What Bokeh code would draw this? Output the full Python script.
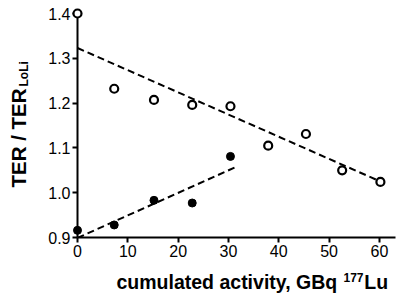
import math
from bokeh.plotting import figure
from bokeh.models import Range1d, Label, FixedTicker, NumeralTickFormatter
from bokeh.embed import file_html
from bokeh.resources import INLINE

# ---- data ----
activity_open = [0, 7.3, 15.2, 22.8, 30.4, 37.9, 45.4, 52.6, 60.2]
ter_open = [1.400, 1.232, 1.207, 1.196, 1.193, 1.105, 1.131, 1.050, 1.024]
activity_filled = [0, 7.3, 15.2, 22.8, 30.4]
ter_filled = [0.916, 0.928, 0.983, 0.977, 1.081]
trend_open_x = [0, 60.2]
trend_open_y = [1.323, 1.025]
trend_filled_x = [0, 31.4]
trend_filled_y = [0.899, 1.057]
x_ticks = [0, 10, 20, 30, 40, 50, 60]
y_ticks = [0.9, 1.0, 1.1, 1.2, 1.3, 1.4]

FONT = "Liberation Sans"
NBSP = "\u00a0"

p = figure(width=400, height=293, output_backend="svg", toolbar_location=None,
           x_range=Range1d(0, 63.2), y_range=Range1d(0.9, 1.4),
           min_border_left=77, min_border_right=5, min_border_top=13, min_border_bottom=56)
p.outline_line_color = None
p.xgrid.visible = False
p.ygrid.visible = False
p.background_fill_color = "white"
p.border_fill_color = "white"

for ax in (p.xaxis[0], p.yaxis[0]):
    ax.axis_line_width = 2
    ax.axis_line_color = "black"
    ax.major_tick_line_width = 2
    ax.major_tick_line_color = "black"
    ax.major_tick_in = 0
    ax.major_tick_out = 5
    ax.minor_tick_line_color = None
    ax.major_label_text_font = FONT
    ax.major_label_text_font_size = "16px"
    ax.major_label_text_color = "black"

p.xaxis.ticker = FixedTicker(ticks=x_ticks)
p.yaxis.ticker = FixedTicker(ticks=y_ticks)
p.yaxis.formatter = NumeralTickFormatter(format="0.0")
p.xaxis.major_label_standoff = 2
p.yaxis.major_label_standoff = 2

# trend lines
p.line(trend_open_x, trend_open_y, line_color="black", line_width=2, line_dash="7 4")
p.line(trend_filled_x, trend_filled_y, line_color="black", line_width=2, line_dash="7 4")

# points (overlay level so the points on the axes are not cut by the frame)
p.scatter(activity_filled, ter_filled, size=8, marker="circle",
          fill_color="black", line_color="black", line_width=1, level="overlay")
p.scatter(activity_open, ter_open, size=8, marker="circle",
          fill_color="white", line_color="black", line_width=2.2, level="overlay")

# y axis label: TER / TER_LoLi (labels in the side panel, not clipped)
p.add_layout(Label(x=-4, y=50, x_units="screen", y_units="screen", text="TER / TER",
                   angle=math.pi / 2, text_align="left", text_baseline="alphabetic",
                   text_font=FONT, text_font_size="20.5px", text_font_style="bold",
                   text_color="black"), "left")
p.add_layout(Label(x=15, y=151, x_units="screen", y_units="screen", text="LoLi",
                   angle=math.pi / 2, text_align="left", text_baseline="alphabetic",
                   text_font=FONT, text_font_size="12px", text_font_style="bold",
                   text_color="black"), "left")

# x axis label: cumulated activity, GBq 177Lu
p.add_layout(Label(x=39, y=0, x_units="screen", y_units="screen",
                   text="cumulated activity, GBq" + NBSP * 5 + "Lu", text_align="left",
                   text_baseline="alphabetic", text_font=FONT, text_font_size="19.5px",
                   text_font_style="bold", text_color="black"), "below")
p.add_layout(Label(x=266, y=-264, x_units="screen", y_units="screen",
                   text="177", text_align="left",
                   text_baseline="alphabetic", text_font=FONT, text_font_size="12px",
                   text_font_style="bold", text_color="black"), "above")

open("out.html", "w").write(file_html(p, INLINE))
